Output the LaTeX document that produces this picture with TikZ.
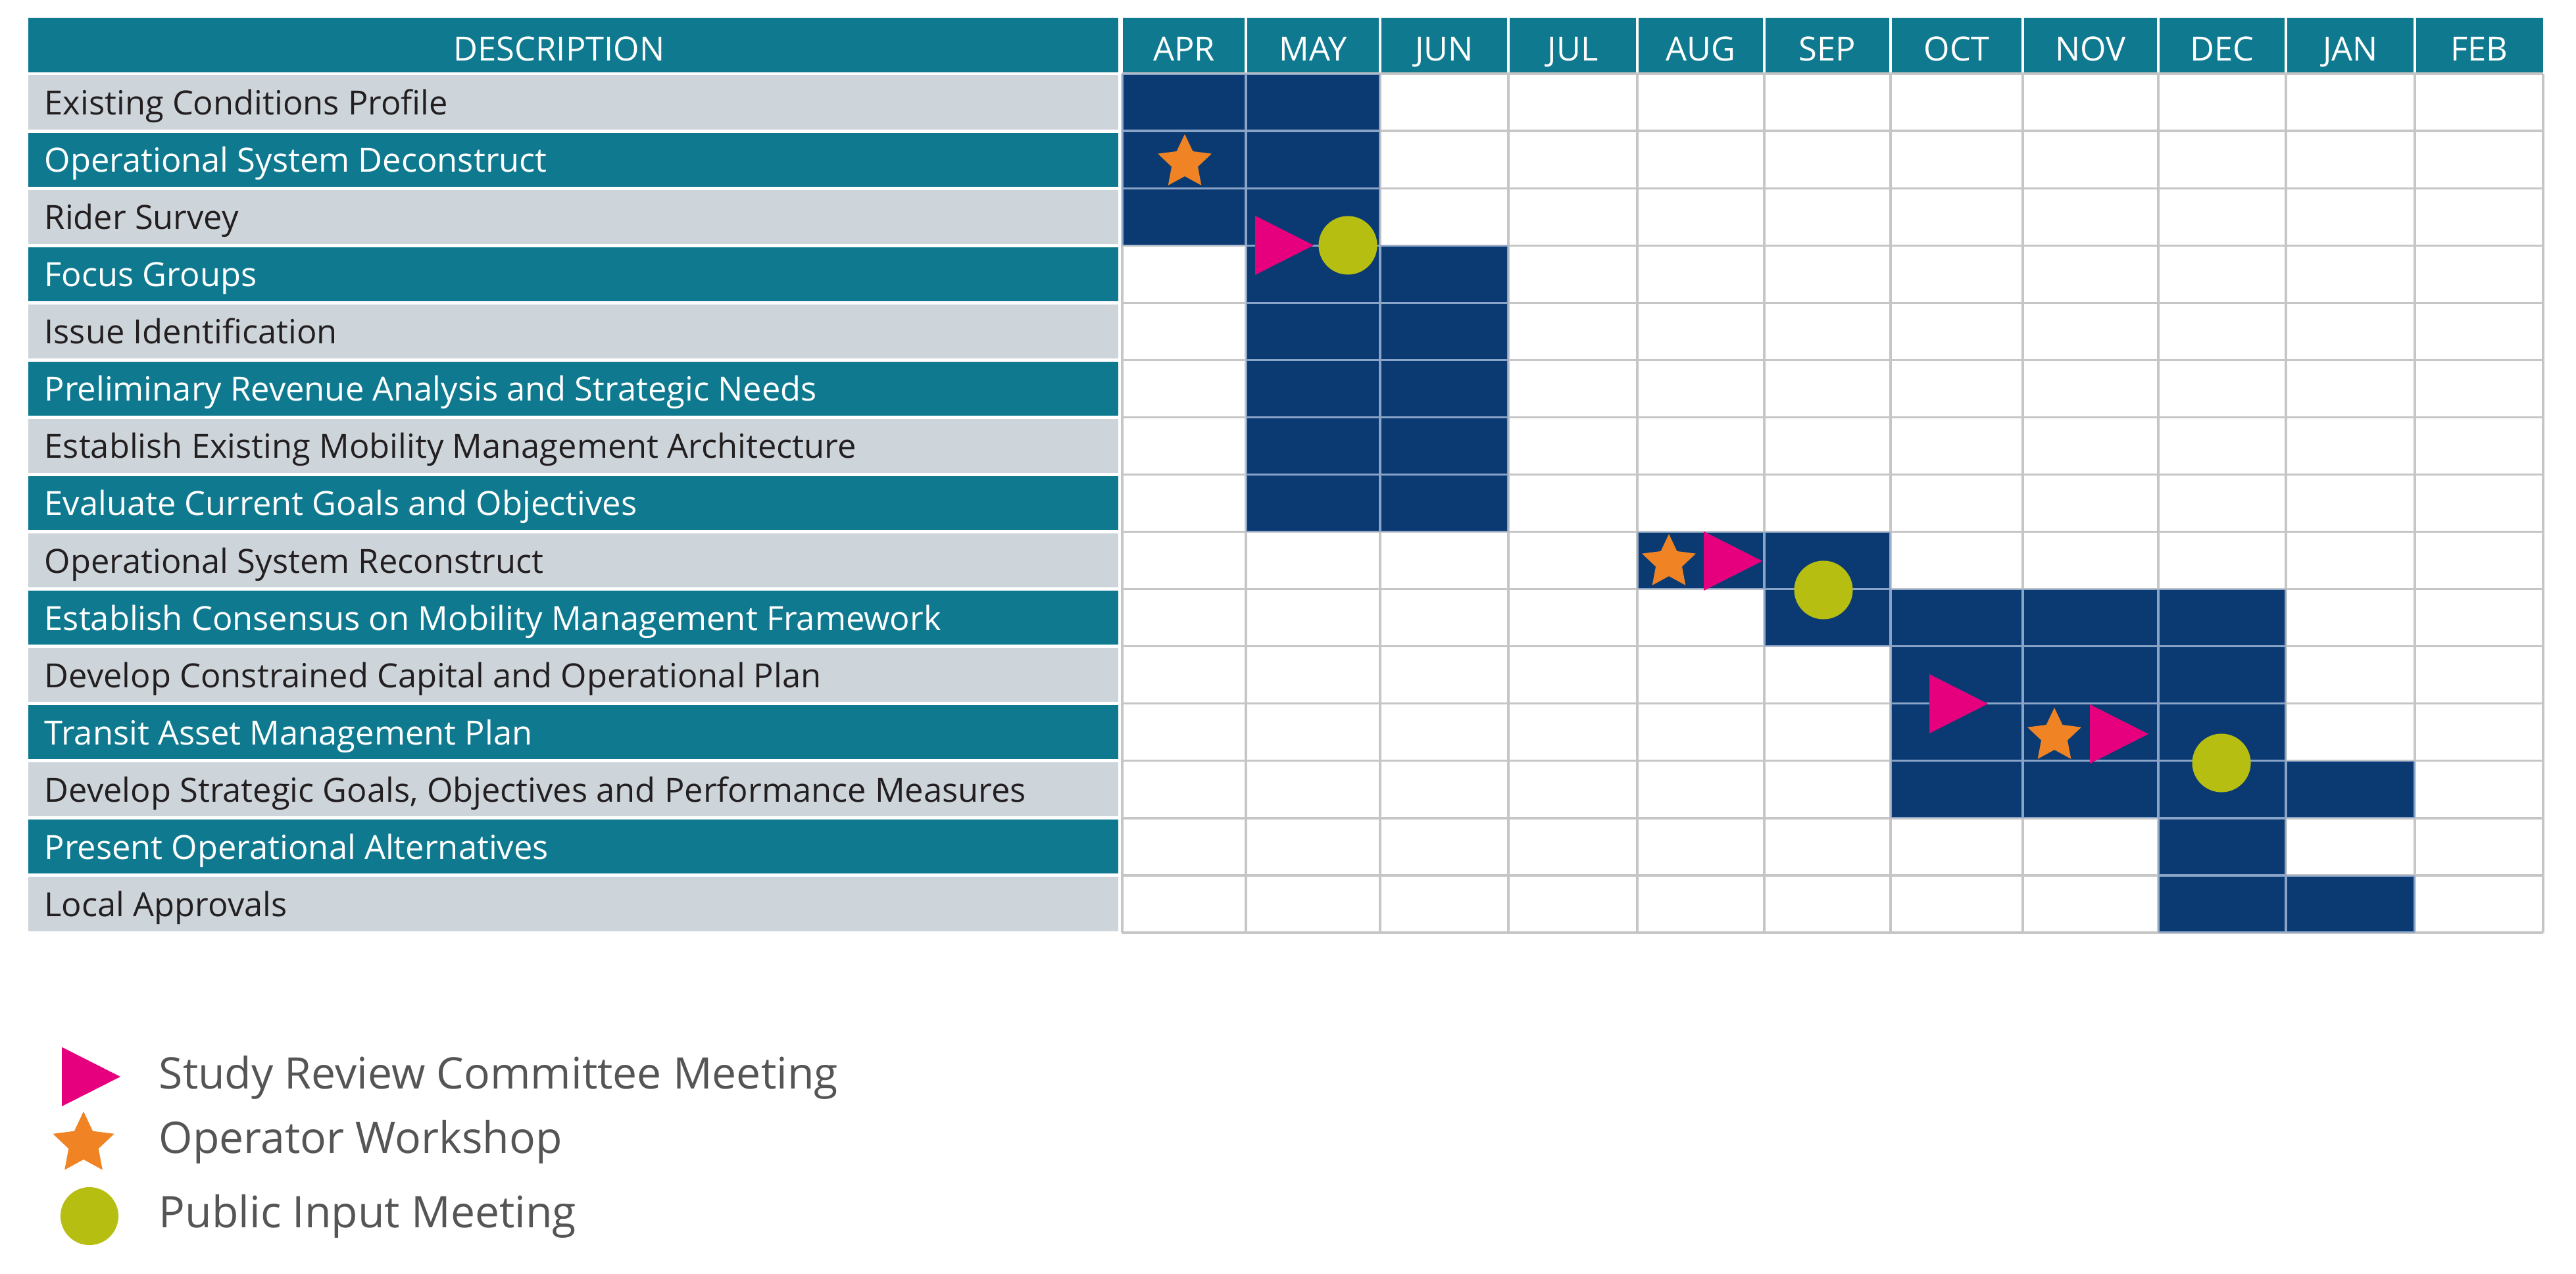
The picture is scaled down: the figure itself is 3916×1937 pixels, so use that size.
\documentclass[tikz,border=0pt]{standalone}
\usepackage{fontspec}
\setmainfont{Open Sans}
\usetikzlibrary{shapes.geometric}
\definecolor{hdrteal}{HTML}{0F7A8F}
\definecolor{rowgray}{HTML}{CDD5DB}
\definecolor{barnavy}{HTML}{0B3A73}
\definecolor{mkmag}{HTML}{E6007E}
\definecolor{mkorange}{HTML}{F08424}
\definecolor{mkolive}{HTML}{B7BE12}
\definecolor{gridc}{HTML}{C6C6C6}
\definecolor{gridnavy}{HTML}{8AA4C8}
\definecolor{legtext}{HTML}{555555}
\definecolor{darktext}{HTML}{231F20}
\tikzset{
  desclabel/.style={anchor=base west, inner sep=0pt, font=\fontsize{14.4}{17}\selectfont},
  monthlabel/.style={anchor=base, inner sep=0pt, text=white, font=\fontsize{14.4}{17}\selectfont},
  starmark/.style={star, star points=5, star point ratio=2.05, fill=mkorange, draw=none, inner sep=0pt, minimum size=0.86cm},
  circmark/.style={circle, fill=mkolive, draw=none, inner sep=0pt, minimum size=0.89cm},
  legendlabel/.style={anchor=base west, inner sep=0pt, text=legtext, font=\fontsize{18.8}{22}\selectfont},
  gridline/.style={draw=gridc, line width=0.9pt},
}
\newcommand\rtop[1]{{112+(#1-1)*87.07}}
\newcommand\rbot[1]{{112+#1*87.07}}
\newcommand\navyrects{%
 (1706,\rtop{1}) rectangle (2098,\rbot{3})
 (1894,\rtop{4}) rectangle (2293,\rbot{8})
 (2489,\rtop{9}) rectangle (2874,\rbot{9})
 (2682,\rtop{10}) rectangle (3475,\rbot{10})
 (2874,\rtop{11}) rectangle (3475,\rbot{12})
 (2874,\rtop{13}) rectangle (3671,\rbot{13})
 (3281,\rtop{14}) rectangle (3475,\rbot{14})
 (3281,\rtop{15}) rectangle (3671,\rbot{15})}
\newcommand\gridlines[1]{%
 \foreach \x in {1706,1894,2098,2293,2489,2682,2874,3075,3281,3475,3671,3866}
   \draw[gridline,#1] (\x,112) -- (\x,1418);
 \foreach \k in {0,...,15}
   \draw[gridline,#1] (1706,{112+\k*87.07}) -- (3866,{112+\k*87.07});}
\newcommand\srcmark[2]{\fill[mkmag] (#1,{#2-45}) -- ({#1+89},#2) -- (#1,{#2+45}) -- cycle;}
\begin{document}
\begin{tikzpicture}[x=0.01cm,y=-0.01cm]
\useasboundingbox (0,0) rectangle (3916,1937);
\fill[white] (0,0) rectangle (3916,1937);
% header
\fill[hdrteal] (43,27) rectangle (3866,110);
\fill[white] (1700,27) rectangle (1707,110);
\foreach \x in {1894,2098,2293,2489,2682,2874,3075,3281,3475,3671}
  \fill[white] ({\x-2},27) rectangle ({\x+2},110);
\node[monthlabel] (hdesc) at (850,93) {DESCRIPTION};
\foreach \m/\a/\b in {APR/1706/1894, MAY/1894/2098, JUN/2098/2293, JUL/2293/2489, AUG/2489/2682, SEP/2682/2874, OCT/2874/3075, NOV/3075/3281, DEC/3281/3475, JAN/3475/3671, FEB/3671/3866}
  \node[monthlabel] (h\m) at ({(\a+\b)/2},93) {\m};
% description rows
\foreach \t [count=\i] in {Existing Conditions Profile, Operational System Deconstruct, Rider Survey, Focus Groups, Issue Identification, Preliminary Revenue Analysis and Strategic Needs, Establish Existing Mobility Management Architecture, Evaluate Current Goals and Objectives, Operational System Reconstruct, Establish Consensus on Mobility Management Framework, Develop Constrained Capital and Operational Plan, Transit Asset Management Plan, {Develop Strategic Goals, Objectives and Performance Measures}, Present Operational Alternatives, Local Approvals}{
  \pgfmathsetmacro\yt{112+(\i-1)*87.07}
  \pgfmathsetmacro\yb{\yt+87.07}
  \pgfmathsetmacro\yc{\yt+43.5+19}
  \ifodd\i\relax
    \fill[rowgray] (43,{\yt+2.5}) rectangle (1700,{\yb-2.5});
    \node[desclabel, text=darktext] (d\i) at (67,\yc) {\t};
  \else
    \fill[hdrteal] (43,{\yt+2.5}) rectangle (1700,{\yb-2.5});
    \node[desclabel, text=white] (d\i) at (67,\yc) {\t};
  \fi
}
% bars
\fill[barnavy] \navyrects;
% grid
\gridlines{}
\begin{scope}
  \clip \navyrects;
  \gridlines{draw=gridnavy}
\end{scope}
% markers
\node[starmark] (ow1) at (1801,247) {};
\srcmark{1908}{373}
\node[circmark] (pi1) at (2049,373) {};
\node[starmark] (ow2) at (2537,855) {};
\srcmark{2590}{853}
\node[circmark] (pi2) at (2772,897) {};
\srcmark{2933}{1070}
\node[starmark] (ow3) at (3123,1119) {};
\srcmark{3177}{1116}
\node[circmark] (pi3) at (3377,1160) {};
% legend
\srcmark{94}{1637}
\node[starmark, minimum size=0.98cm] (lgstar) at (127,1739) {};
\node[circmark, minimum size=0.88cm] (lgcirc) at (136,1849) {};
\node[legendlabel] (lg1) at (241,1655) {Study Review Committee Meeting};
\node[legendlabel] (lg2) at (241,1753) {Operator Workshop};
\node[legendlabel] (lg3) at (241,1866) {Public Input Meeting};
\end{tikzpicture}
\end{document}
